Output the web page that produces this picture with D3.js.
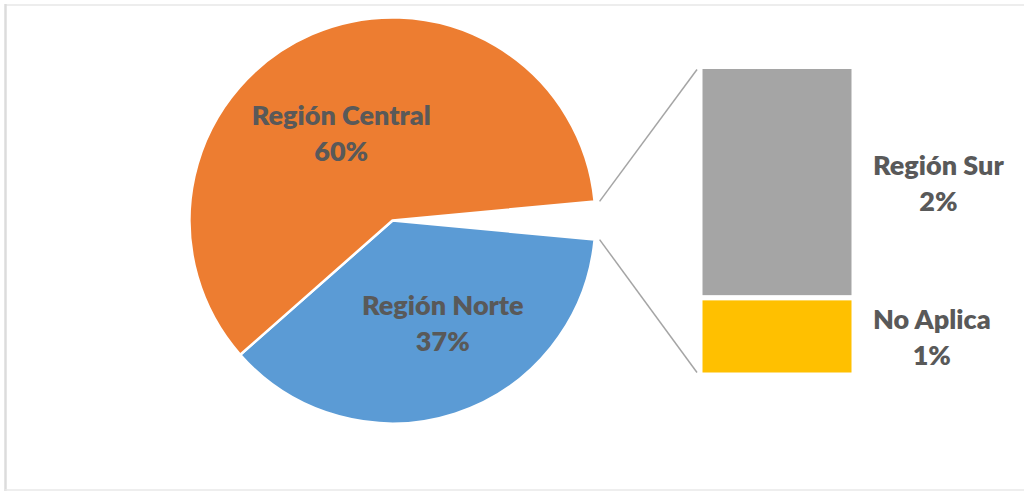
<!DOCTYPE html>
<html>
<head>
<meta charset="utf-8">
<script src="https://cdn.jsdelivr.net/npm/d3@7"></script>
<style>
  html, body { margin: 0; padding: 0; background: #fff; }
  svg { display: block; }
</style>
</head>
<body>
<div id="chart"></div>
<script>
// data
var pieCategories = ["Región Central", "Región Norte"];
var pieValues = [60, 37];
var barCategories = ["Región Sur", "No Aplica"];
var barValues = [2.25, 0.75];

var pieColors = ["#ED7D31", "#5B9BD5"];
var barColors = ["#A5A5A5", "#FFC000"];

var width = 1024, height = 491;
var fmt = function (v) { return Math.round(v) + "%"; };
var labelFont = { family: "Lato, 'Open Sans', sans-serif", weight: 800, size: "27px", color: "#595959" };

var svg = d3.select("#chart").append("svg")
  .attr("width", width)
  .attr("height", height);

// frame of the chart area
svg.append("line").attr("x1", 5).attr("x2", width).attr("y1", 5).attr("y2", 5)
  .attr("stroke", "#ededed").attr("stroke-width", 2);
svg.append("line").attr("x1", 5.5).attr("x2", 5.5).attr("y1", 4).attr("y2", 491)
  .attr("stroke", "#dcdcdc").attr("stroke-width", 2.5);
svg.append("line").attr("x1", 5).attr("x2", width).attr("y1", 490).attr("y2", 490)
  .attr("stroke", "#e8e8e8").attr("stroke-width", 1.5);

// pie
var cx = 392.5, cy = 220.5, radius = 203, explode = 5;
var otherTotal = d3.sum(barValues);
var total = d3.sum(pieValues) + otherTotal;

var pieData = [{ name: "Otros", value: otherTotal, other: true }];
pieData.push({ name: pieCategories[1], value: pieValues[1], color: pieColors[1] });
pieData.push({ name: pieCategories[0], value: pieValues[0], color: pieColors[0] });

var start = Math.PI / 2 - Math.PI * otherTotal / total;
var pie = d3.pie().sort(null).value(function (d) { return d.value; })
  .startAngle(start).endAngle(start + 2 * Math.PI);
var arcs = pie(pieData);

var arc = d3.arc().innerRadius(0).outerRadius(radius);

var g = svg.append("g").attr("transform", "translate(" + cx + "," + cy + ")");

g.selectAll("path.slice")
  .data(arcs.filter(function (d) { return !d.data.other; }))
  .enter()
  .append("path")
  .attr("class", "slice")
  .attr("d", arc)
  .attr("fill", function (d) { return d.data.color; })
  .attr("stroke", "#fff")
  .attr("stroke-width", 2.5)
  .attr("stroke-linejoin", "round");

function styleLabel(sel) {
  sel.attr("text-anchor", "middle")
    .style("font-family", labelFont.family)
    .style("font-weight", labelFont.weight)
    .style("font-size", labelFont.size)
    .style("fill", labelFont.color);
}

// pie labels
var labelR = radius * 0.53, labelShift = -7.5 * Math.PI / 180;
g.selectAll("text.pl")
  .data(arcs.filter(function (d) { return !d.data.other; }))
  .enter()
  .append("text")
  .attr("class", "pl")
  .call(styleLabel)
  .each(function (d) {
    var p = d3.pointRadial((d.startAngle + d.endAngle) / 2 + labelShift, labelR);
    var t = d3.select(this);
    t.append("tspan").attr("x", p[0] + 4).attr("y", p[1] - 3).text(d.data.name);
    t.append("tspan").attr("x", p[0] + 4).attr("y", p[1] + 33).text(fmt(d.data.value));
  });

// bar of the small slices
var otherArc = arcs[0];
var barX = 700, barW = 154;
var y = d3.scaleLinear().domain([0, otherTotal]).range([375, 66.5]);

var stack = [];
var acc = 0;
barCategories.forEach(function (c, i) {
  stack.push({ name: c, value: barValues[i], y0: otherTotal - acc - barValues[i], y1: otherTotal - acc, color: barColors[i] });
  acc += barValues[i];
});

svg.selectAll("rect.seg")
  .data(stack)
  .enter()
  .append("rect")
  .attr("class", "seg")
  .attr("x", barX)
  .attr("width", barW)
  .attr("y", function (d) { return y(d.y1); })
  .attr("height", function (d) { return y(d.y0) - y(d.y1); })
  .attr("fill", function (d) { return d.color; })
  .attr("stroke", "#fff")
  .attr("stroke-width", 5);

// connector lines
var off = d3.pointRadial((otherArc.startAngle + otherArc.endAngle) / 2, explode);
var pTop = d3.pointRadial(otherArc.startAngle, radius);
var pBot = d3.pointRadial(otherArc.endAngle, radius);
var conn = [
  [cx + off[0] + pTop[0], cy + off[1] + pTop[1], barX - 3, y(otherTotal) + 3],
  [cx + off[0] + pBot[0], cy + off[1] + pBot[1], barX - 3, y(0) - 2.5]
];
svg.selectAll("line.conn")
  .data(conn)
  .enter()
  .append("line")
  .attr("class", "conn")
  .attr("x1", function (d) { return d[0]; })
  .attr("y1", function (d) { return d[1]; })
  .attr("x2", function (d) { return d[2]; })
  .attr("y2", function (d) { return d[3]; })
  .attr("stroke", "#A5A5A5")
  .attr("stroke-width", 1.5);

// bar labels
var labelLeft = barX + barW + 19;
svg.selectAll("text.bl")
  .data(stack)
  .enter()
  .append("text")
  .attr("class", "bl")
  .call(styleLabel)
  .each(function (d) {
    var t = d3.select(this);
    var mid = (y(d.y0) + y(d.y1)) / 2;
    var a = t.append("tspan").attr("y", mid - 7).text(d.name);
    var b = t.append("tspan").attr("y", mid + 29).text(fmt(d.value));
    var w = Math.max(a.node().getComputedTextLength(), b.node().getComputedTextLength());
    a.attr("x", labelLeft + w / 2);
    b.attr("x", labelLeft + w / 2);
  });
</script>
</body>
</html>
